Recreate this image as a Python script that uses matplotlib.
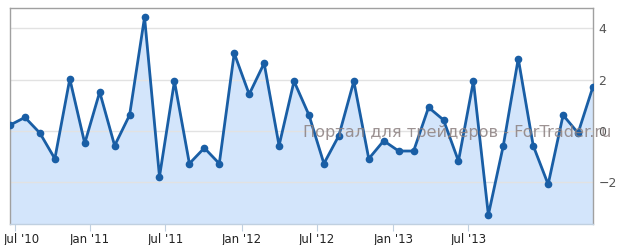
import matplotlib
matplotlib.use("Agg")
import matplotlib.pyplot as plt
import matplotlib.transforms as mtransforms
import numpy as np

values = [0.23, 0.53, -0.08, -1.08, 2.03, -0.48, 1.52, -0.57, 0.62, 4.43,
          -1.78, 1.94, -1.27, -0.66, -1.27, 3.03, 1.43, 2.64, -0.57, 1.94,
          0.62, -1.27, -0.18, 1.94, -1.08, -0.38, -0.78, -0.78, 0.92, 0.43,
          -1.17, 1.94, -3.27, -0.57, 2.82, -0.57, -2.08, 0.62, -0.08, 1.73]
x_idx = list(range(len(values)))
tick_pos = [0.33, 5.35, 10.4, 15.49, 20.55, 25.65, 30.67]
tick_labels = ["Jul '10", "Jan '11", "Jul '11", "Jan '12", "Jul '12", "Jan '13", "Jul '13"]
y_ticks = [-2, 0, 2, 4]

W, H, dpi = 618, 245, 100
fig = plt.figure(figsize=(W / dpi, H / dpi), dpi=dpi)
left, right, top, bottom = 10, 593, 8, 223.5
ax = fig.add_axes([left / W, 1 - bottom / H, (right - left) / W, (bottom - top) / H])

ymin = -(223.5 - 131) / 25.67
ymax = (131 - 8) / 25.67
ax.set_ylim(ymin, ymax)
ax.set_xlim(0, len(values) - 1)

ax.fill_between(x_idx, values, ymin, color="#d3e5fb", zorder=1)
for yt in y_ticks:
    ax.axhline(yt, color="#e2e2e2", lw=1, zorder=1.5)
ax.plot(x_idx, values, color="#195ea5", lw=2, marker="o", ms=4.5, zorder=3)

ax.yaxis.tick_right()
ax.set_yticks(y_ticks)
ax.set_yticklabels(["\u22122", "0", "2", "4"], fontsize=9, color="#555555")
ax.tick_params(axis="y", length=0, pad=4)
ax.set_xticks(tick_pos)
ax.set_xticklabels(tick_labels, fontsize=8.5, color="#222222")
ax.tick_params(axis="x", length=5, color="#c0d0e0", pad=2)

first = ax.get_xticklabels()[0]
first.set_transform(first.get_transform() +
                    mtransforms.ScaledTranslation(7 / dpi, 0, fig.dpi_scale_trans))

for s in ["left", "right", "top"]:
    ax.spines[s].set_color("#a0a0a0")
    ax.spines[s].set_linewidth(1)
ax.spines["bottom"].set_color("#c0d0e0")
ax.spines["bottom"].set_linewidth(1)

fig.text(457 / W, 1 - 133 / H, "Портал для трейдеров - ForTrader.ru", fontsize=11.6,
         color="#8c8080", alpha=0.85, ha="center", va="center", zorder=10)

fig.savefig("out.png", dpi=dpi)
